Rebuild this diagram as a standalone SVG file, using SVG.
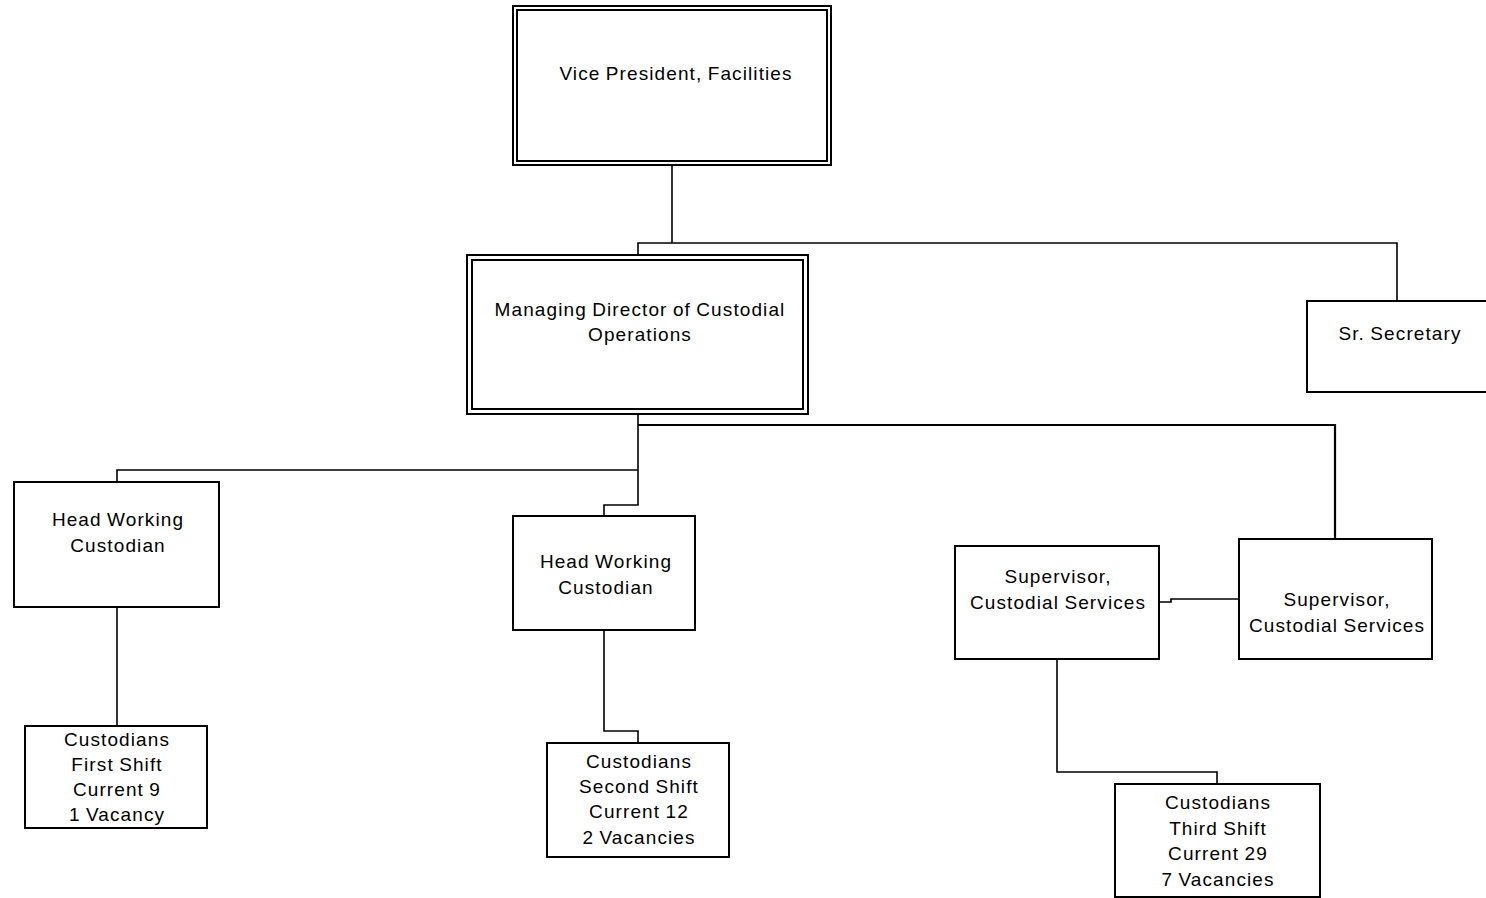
<svg xmlns="http://www.w3.org/2000/svg" width="1486" height="898" viewBox="0 0 1486 898">
<style>
.box{fill:#fff;stroke:#000;stroke-width:2}
.inner{fill:none;stroke:#000;stroke-width:2}
.conn{fill:none;stroke:#000;stroke-width:1.6}
text{font-family:"Liberation Sans",Arial,sans-serif;font-size:19px;letter-spacing:1.1px;word-spacing:-1px;fill:#000;text-anchor:middle}
</style>
<rect width="1486" height="898" fill="#fff"/>
<g id="connectors">
<path class="conn" d="M672 165V243"/>
<path class="conn" d="M638 255V243H1397V301"/>
<path class="conn" d="M638 414V505H604V516"/>
<path class="conn" d="M638 470H117V482"/>
<path class="conn" d="M638 425H1335V539" style="stroke-width:2.2"/>
<path class="conn" d="M117 607V726"/>
<path class="conn" d="M604 630V731H638V743"/>
<path class="conn" d="M1159 602H1171V599H1239"/>
<path class="conn" d="M1057 659V772H1217V784"/>
</g>
<g id="vp">
<rect class="box" x="513" y="6" width="318" height="159"/>
<rect class="inner" x="517" y="10" width="310" height="151"/>
<text x="676" y="80">Vice President, Facilities</text>
</g>
<g id="md">
<rect class="box" x="467" y="255" width="341" height="159"/>
<rect class="inner" x="472" y="260" width="331" height="149"/>
<text x="640" y="316">Managing Director of Custodial</text>
<text x="640" y="341">Operations</text>
</g>
<g id="secretary">
<rect class="box" x="1307" y="301" width="190" height="91"/>
<text x="1400" y="340">Sr. Secretary</text>
</g>
<g id="hwc1">
<rect class="box" x="14" y="482" width="205" height="125"/>
<text x="118" y="526">Head Working</text>
<text x="118" y="552">Custodian</text>
</g>
<g id="hwc2">
<rect class="box" x="513" y="516" width="182" height="114"/>
<text x="606" y="568">Head Working</text>
<text x="606" y="594">Custodian</text>
</g>
<g id="sup1">
<rect class="box" x="955" y="546" width="204" height="113"/>
<text x="1058" y="583">Supervisor,</text>
<text x="1058" y="609">Custodial Services</text>
</g>
<g id="sup2">
<rect class="box" x="1239" y="539" width="193" height="120"/>
<text x="1337" y="606">Supervisor,</text>
<text x="1337" y="632">Custodial Services</text>
</g>
<g id="cust1">
<rect class="box" x="25" y="726" width="182" height="102"/>
<text x="117" y="746">Custodians</text>
<text x="117" y="771">First Shift</text>
<text x="117" y="796">Current 9</text>
<text x="117" y="821">1 Vacancy</text>
</g>
<g id="cust2">
<rect class="box" x="547" y="743" width="182" height="114"/>
<text x="639" y="768">Custodians</text>
<text x="639" y="793">Second Shift</text>
<text x="639" y="818">Current 12</text>
<text x="639" y="844">2 Vacancies</text>
</g>
<g id="cust3">
<rect class="box" x="1115" y="784" width="205" height="113"/>
<text x="1218" y="809">Custodians</text>
<text x="1218" y="835">Third Shift</text>
<text x="1218" y="860">Current 29</text>
<text x="1218" y="886">7 Vacancies</text>
</g>
</svg>
